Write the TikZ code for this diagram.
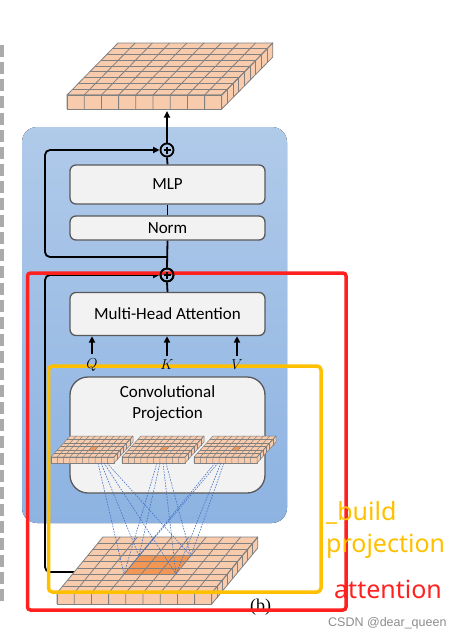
\documentclass[tikz,border=0pt]{standalone}
\usepackage{fontspec}
\usepackage{amsmath}
\usetikzlibrary{arrows.meta,positioning}

\newfontfamily\blockfont{Carlito}
\newfontfamily\notefont{Noto Sans}
\newfontfamily\markfont{Liberation Sans}
\newfontfamily\capfont{Liberation Serif}

\definecolor{bgtop}{RGB}{176,202,233}
\definecolor{bgbot}{RGB}{141,179,226}
\definecolor{boxfill}{RGB}{242,242,242}
\definecolor{boxline}{RGB}{89,89,89}
\definecolor{cellfill}{RGB}{248,203,173}
\definecolor{cellline}{RGB}{128,128,128}
\definecolor{cellhl}{RGB}{241,150,85}
\definecolor{projblue}{RGB}{68,114,196}
\definecolor{markyellow}{RGB}{255,192,0}
\definecolor{markred}{RGB}{255,32,32}

% 特征块: 前左角 (#1,#2), 列数, 行数, 格宽, 深度, 偏移, 厚度, 高亮格
\newcommand{\gridblock}[9]{%
  \begin{scope}[shift={(#1,#2)}]
    \pgfmathsetmacro{\blkw}{#3*#5}
    \pgfmathtruncatemacro{\lastc}{#3-1}
    \pgfmathtruncatemacro{\lastr}{#4-1}
    \filldraw[cubebody] (0,0) -- (\blkw,0) -- (\blkw+#7,-#6) -- (#7,-#6) -- cycle;
    \filldraw[cubebody] (0,0) rectangle (\blkw,#8);
    \filldraw[cubebody] (\blkw,0) -- (\blkw+#7,-#6) -- (\blkw+#7,-#6+#8) -- (\blkw,#8) -- cycle;
    \foreach \hla/\hlb/\hlc/\hld in {#9}
      \fill[cellhl] (\hla*#5+\hlb*#7/#4,-\hlb*#6/#4) -- ++(\hlc*#5,0)
        -- ++(\hld*#7/#4,-\hld*#6/#4) -- ++(-\hlc*#5,0) -- cycle;
    \foreach \i in {1,...,\lastc}
      \draw[cubegrid] (\i*#5,#8) -- (\i*#5,0) -- (\i*#5+#7,-#6);
    \foreach \j in {1,...,\lastr}
      \draw[cubegrid] (\j*#7/#4,-\j*#6/#4) -- (\blkw+\j*#7/#4,-\j*#6/#4) -- ++(0,#8);
    \draw[cubegrid] (0,#8) -- (0,0) -- (\blkw,0) -- (\blkw+#7,-#6);
  \end{scope}}

\begin{document}
\begin{tikzpicture}[x=1pt, y=-1pt, >={Triangle[length=6.5pt,width=6pt]},
  block/.style={draw=boxline, fill=boxfill, line width=1.3pt, rounded corners=6pt,
    minimum width=195pt, inner sep=0pt, font=\blockfont\fontsize{17}{22}\selectfont},
  addop/.style={circle, draw, line width=1.8pt, minimum size=13pt, inner sep=0pt,
    path picture={\draw[line width=1.2pt]
      (path picture bounding box.center) ++(-3.5pt,0) -- ++(7pt,0)
      (path picture bounding box.center) ++(0,-3.5pt) -- ++(0,7pt);}},
  conn/.style={line width=1.8pt},
  proj/.style={projblue, line width=0.6pt, dash pattern=on 1.6pt off 1.2pt},
  qkv/.style={inner sep=0pt, font=\fontsize{14}{16}\selectfont},
  note/.style={inner sep=0pt, anchor=base west, font=\notefont\fontsize{25}{30}\selectfont},
  cubebody/.style={fill=cellfill, draw=cellline, line width=0.8pt, line join=round},
  cubegrid/.style={draw=cellline, line width=0.8pt}]

  \useasboundingbox (0,0) rectangle (458,638);

  % 左侧虚线
  \draw[line width=4pt, black!33, dash pattern=on 12pt off 5pt] (2,45) -- (2,604);

  % 蓝色背景
  \fill[top color=bgtop, bottom color=bgbot, rounded corners=15pt] (22,127) rectangle (287,523);

  % 模块
  \node[block, minimum height=39pt] (mlp) at (167.5,184.5) {MLP};
  \node[block, minimum height=24pt] (norm) at (167.5,228) {Norm};
  \node[block, minimum height=43pt] (mha) at (167.5,314) {Multi-Head Attention};
  \node[block, minimum height=116pt, rounded corners=18pt] (conv) at (167.5,435) {};
  \node[font=\blockfont\fontsize{17}{21}\selectfont, align=center, inner sep=0pt,
    below=9pt of conv.north] (convtxt) {Convolutional\\Projection};

  % Q K V 特征块
  \begin{scope}[cubegrid/.append style={line width=0.5pt}, cubebody/.append style={line width=0.5pt}]
    \foreach \sx in {51,122,194} {
      \gridblock{\sx}{457}{10}{6}{6.3}{21}{19}{6}{5/2/1/1}
    }
  \end{scope}

  % 下方残差
  \coordinate (feat) at (77,572);
  \node[addop] (add1) at (167,150) {};
  \node[addop] (add2) at (167,275) {};
  \draw[conn, ->, rounded corners=5pt] (feat) -- ++(-32,0) |- (add2.west);

  % 输入特征
  \gridblock{57}{593}{9}{9}{17.2}{56}{46}{11}{3/3/3/3}
  \coordinate (hl-fl) at (124,574);
  \coordinate (hl-fr) at (176,574);
  \coordinate (hl-bl) at (139,556);
  \coordinate (hl-br) at (191,556);

  % 卷积投影连线
  \foreach \c/\sx in {1/98,2/157,3/215}
    \foreach \k in {0,...,3}
      \coordinate (src-\c-\k) at (\sx+3*\k,463);
  \foreach \c in {1,2,3}
    \foreach \k/\e in {0/hl-fl,1/hl-bl,2/hl-fr,3/hl-br}
      \draw[proj] (src-\c-\k) -- (\e);

  \node[font=\capfont\fontsize{18}{20}\selectfont, anchor=base west, inner sep=0pt] (cap) at (250,611) {(b)};

  % 标注框
  \draw[markyellow, line width=3.5pt, rounded corners=4pt] (48.5,366) rectangle (321,592);
  \draw[markred, line width=3.5pt, rounded corners=3pt] (27.5,273) rectangle (346,610);

  % 主干连线
  \coordinate (br1) at (167,257);
  \coordinate (outtip) at (167,111);
  \draw[conn] (norm.south) -- (add2.north);
  \draw[conn] (add2.south) -- (mha.north);
  \draw[conn] (norm.north) -- (mlp.south);
  \draw[conn] (mlp.north) -- (add1.south);
  \draw[conn, ->] (add1.north) -- (outtip);
  \draw[conn, ->, rounded corners=5pt] (br1) -- ++(-122,0) |- (add1.west);
  \node[addop] at (add2) {};

  % Q K V
  \node[qkv] (q) at (92,365) {$Q$};
  \node[qkv] (k) at (167,365) {$K$};
  \node[qkv] (v) at (237,365) {$V$};
  \foreach \t in {q,k,v}
    \draw[conn, ->, shorten <=4pt] (\t.north) -- (\t.north |- mha.south);

  % 输出特征
  \gridblock{67}{95}{9}{9}{17.2}{52}{51}{14}{0/0/0/0}

  % 文字
  \node[note, text=markyellow] (buildtxt) at (326,520) {\_build};
  \node[note, text=markyellow] (projtxt) at (326,552) {projection};
  \node[note, text=markred] (atttxt) at (334,598) {attention};
  \node[anchor=base west, inner sep=0pt, text=black!45, font=\markfont\fontsize{12.5}{14}\selectfont] (wm) at (328,626) {CSDN @dear\_queen};
\end{tikzpicture}
\end{document}
